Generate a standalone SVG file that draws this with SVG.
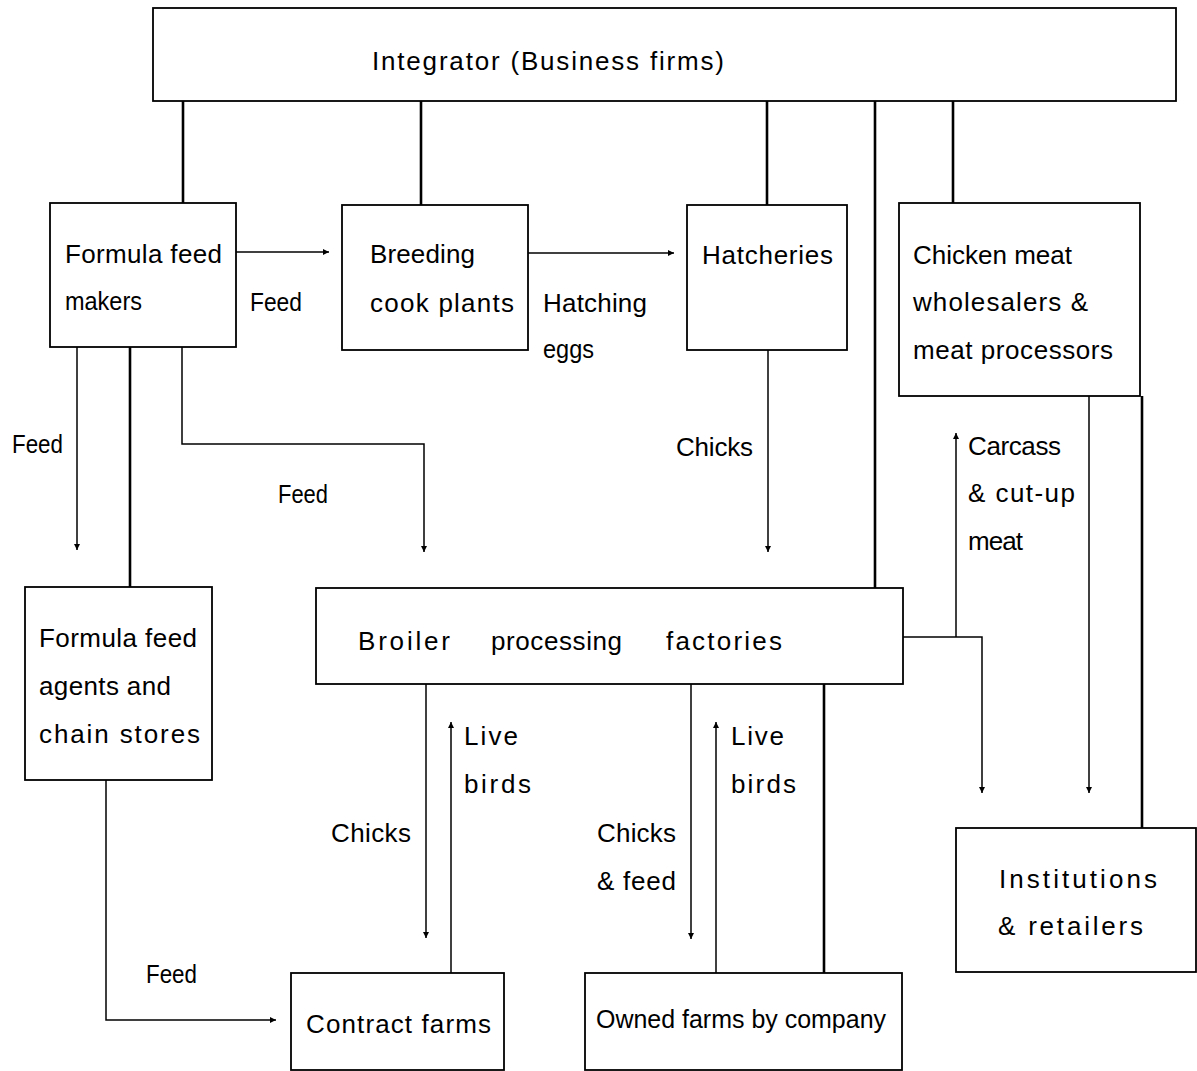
<svg xmlns="http://www.w3.org/2000/svg" width="1197" height="1071" viewBox="0 0 1197 1071">
<style>
.box{fill:#fff;stroke:#000;stroke-width:1.8}
.t{font-family:"Liberation Sans",Arial,sans-serif;font-size:26px;fill:#000}
.thick{fill:none;stroke:#000;stroke-width:2.6}
.arr{fill:none;stroke:#000;stroke-width:1.5}
</style>
<defs>
<marker id="ah" viewBox="0 0 10 10" refX="10" refY="5" markerWidth="8" markerHeight="6" markerUnits="userSpaceOnUse" orient="auto">
<path d="M0,0 L10,5 L0,10 z" fill="#000"/>
</marker>
</defs>
<rect width="1197" height="1071" fill="#fff"/>
<g id="connectors">
<line class="thick" x1="183" y1="101" x2="183" y2="203"/>
<line class="thick" x1="421" y1="101" x2="421" y2="205"/>
<line class="thick" x1="767" y1="101" x2="767" y2="205"/>
<line class="thick" x1="875" y1="101" x2="875" y2="588"/>
<line class="thick" x1="953" y1="101" x2="953" y2="203"/>
<line class="arr" x1="236" y1="252" x2="329" y2="252" marker-end="url(#ah)"/>
<line class="arr" x1="528" y1="253" x2="674" y2="253" marker-end="url(#ah)"/>
<line class="arr" x1="768" y1="350" x2="768" y2="552" marker-end="url(#ah)"/>
<line class="arr" x1="77" y1="347" x2="77" y2="550" marker-end="url(#ah)"/>
<line class="thick" x1="130" y1="347" x2="130" y2="587"/>
<polyline class="arr" points="182,347 182,444 424,444 424,552" marker-end="url(#ah)"/>
<polyline class="arr" points="106,780 106,1020 276,1020" marker-end="url(#ah)"/>
<line class="arr" x1="426" y1="684" x2="426" y2="938" marker-end="url(#ah)"/>
<line class="arr" x1="451" y1="973" x2="451" y2="722" marker-end="url(#ah)"/>
<line class="arr" x1="691" y1="684" x2="691" y2="939" marker-end="url(#ah)"/>
<line class="arr" x1="716" y1="973" x2="716" y2="722" marker-end="url(#ah)"/>
<line class="thick" x1="824" y1="684" x2="824" y2="973"/>
<polyline class="arr" points="903,637 982,637 982,793" marker-end="url(#ah)"/>
<line class="arr" x1="956" y1="637" x2="956" y2="433" marker-end="url(#ah)"/>
<line class="arr" x1="1089" y1="396" x2="1089" y2="793" marker-end="url(#ah)"/>
<line class="thick" x1="1142" y1="396" x2="1142" y2="828"/>
</g>
<g id="integrator">
<rect class="box" x="153" y="8" width="1023" height="93"/>
<text class="t" x="372" y="70" textLength="352" lengthAdjust="spacing">Integrator (Business firms)</text>
</g>
<g id="formula-feed-makers">
<rect class="box" x="50" y="203" width="186" height="144"/>
<text class="t" x="65" y="263" textLength="157" lengthAdjust="spacing">Formula feed</text>
<text class="t" x="65" y="310" textLength="77" lengthAdjust="spacingAndGlyphs">makers</text>
</g>
<g id="breeding">
<rect class="box" x="342" y="205" width="186" height="145"/>
<text class="t" x="370" y="263" textLength="105" lengthAdjust="spacing">Breeding</text>
<text class="t" x="370" y="312" textLength="144" lengthAdjust="spacing">cook plants</text>
</g>
<g id="hatcheries">
<rect class="box" x="687" y="205" width="160" height="145"/>
<text class="t" x="702" y="264" textLength="131" lengthAdjust="spacing">Hatcheries</text>
</g>
<g id="chicken-meat">
<rect class="box" x="899" y="203" width="241" height="193"/>
<text class="t" x="913" y="264" textLength="159" lengthAdjust="spacing">Chicken meat</text>
<text class="t" x="913" y="311" textLength="175" lengthAdjust="spacing">wholesalers &amp;</text>
<text class="t" x="913" y="359" textLength="200" lengthAdjust="spacing">meat processors</text>
</g>
<g id="formula-feed-agents">
<rect class="box" x="25" y="587" width="187" height="193"/>
<text class="t" x="39" y="647" textLength="158" lengthAdjust="spacing">Formula feed</text>
<text class="t" x="39" y="695" textLength="132" lengthAdjust="spacing">agents and</text>
<text class="t" x="39" y="743" textLength="161" lengthAdjust="spacing">chain stores</text>
</g>
<g id="broiler">
<rect class="box" x="316" y="588" width="587" height="96"/>
<text class="t" x="358" y="650" textLength="92" lengthAdjust="spacing">Broiler</text>
<text class="t" x="491" y="650" textLength="131" lengthAdjust="spacing">processing</text>
<text class="t" x="666" y="650" textLength="116" lengthAdjust="spacing">factories</text>
</g>
<g id="contract-farms">
<rect class="box" x="291" y="973" width="213" height="97"/>
<text class="t" x="306" y="1033" textLength="185" lengthAdjust="spacing">Contract farms</text>
</g>
<g id="owned-farms">
<rect class="box" x="585" y="973" width="317" height="97"/>
<text class="t" x="596" y="1028" textLength="290" lengthAdjust="spacingAndGlyphs">Owned farms by company</text>
</g>
<g id="institutions">
<rect class="box" x="956" y="828" width="240" height="144"/>
<text class="t" x="999" y="888" textLength="158" lengthAdjust="spacing">Institutions</text>
<text class="t" x="998" y="935" textLength="145" lengthAdjust="spacing">&amp; retailers</text>
</g>
<g id="labels">
<text class="t" x="250" y="311" textLength="52" lengthAdjust="spacingAndGlyphs">Feed</text>
<text class="t" x="543" y="312" textLength="104" lengthAdjust="spacing">Hatching</text>
<text class="t" x="543" y="358" textLength="51" lengthAdjust="spacingAndGlyphs">eggs</text>
<text class="t" x="676" y="456" textLength="77" lengthAdjust="spacing">Chicks</text>
<text class="t" x="12" y="453" textLength="51" lengthAdjust="spacingAndGlyphs">Feed</text>
<text class="t" x="278" y="503" textLength="50" lengthAdjust="spacingAndGlyphs">Feed</text>
<text class="t" x="968" y="455" textLength="93" lengthAdjust="spacing">Carcass</text>
<text class="t" x="968" y="502" textLength="107" lengthAdjust="spacing">&amp; cut-up</text>
<text class="t" x="968" y="550" textLength="55" lengthAdjust="spacing">meat</text>
<text class="t" x="331" y="842" textLength="80" lengthAdjust="spacing">Chicks</text>
<text class="t" x="464" y="745" textLength="54" lengthAdjust="spacing">Live</text>
<text class="t" x="464" y="793" textLength="67" lengthAdjust="spacing">birds</text>
<text class="t" x="597" y="842" textLength="79" lengthAdjust="spacing">Chicks</text>
<text class="t" x="597" y="890" textLength="79" lengthAdjust="spacing">&amp; feed</text>
<text class="t" x="731" y="745" textLength="53" lengthAdjust="spacing">Live</text>
<text class="t" x="731" y="793" textLength="65" lengthAdjust="spacing">birds</text>
<text class="t" x="146" y="983" textLength="51" lengthAdjust="spacingAndGlyphs">Feed</text>
</g>
</svg>
